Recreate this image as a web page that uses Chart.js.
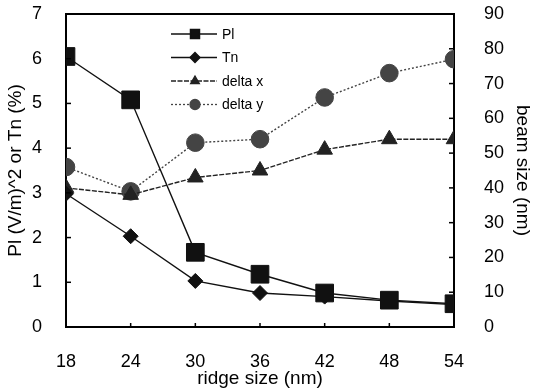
<!DOCTYPE html>
<html>
<head>
<meta charset="utf-8">
<script src="https://cdn.jsdelivr.net/npm/chart.js@4.4.1/dist/chart.umd.min.js"></script>
<style>
    html, body { margin: 0; padding: 0; background: #fff; }
    canvas { display: block; }
</style>
</head>
<body>
<canvas id="ridgeChart" width="534" height="392"></canvas>
<script>
// ridge size (nm)
const ridgeSizes = [18, 24, 30, 36, 42, 48, 54];
// left axis: Pl (V/m)^2 and Tn (%)
const plValues = [6.05, 5.08, 1.67, 1.18, 0.76, 0.6, 0.52];
const tnValues = [2.98, 2.03, 1.03, 0.76, 0.68, 0.58, 0.5];
// right axis: beam size (nm)
const deltaX = [40, 38, 43, 45, 51, 54, 54];
const deltaY = [46, 39, 53, 54, 66, 73, 77];

const fontFamily = '"Liberation Sans", Arial, sans-serif';

function toPoints(values) {
    return ridgeSizes.map((x, i) => ({ x: x, y: values[i] }));
}

const seriesStyles = [
    { label: 'Pl', data: plValues, axis: 'y', style: 'rect', radius: 12.5, color: '#111', dash: [] },
    { label: 'Tn', data: tnValues, axis: 'y', style: 'rectRot', radius: 7.5, color: '#111', dash: [] },
    { label: 'delta x', data: deltaX, axis: 'y2', style: 'triangle', radius: 9, color: '#222', dash: [5, 1.5] },
    { label: 'delta y', data: deltaY, axis: 'y2', style: 'circle', radius: 8.8, color: '#444', dash: [2, 2] }
];

// top edge of the frame, inward tick marks and the legend inside the plot
const framePlugin = {
    id: 'frame',
    afterDraw(chart) {
        const ctx = chart.ctx;
        const left = chart.scales.x.left, right = chart.scales.x.right;
        const top = chart.scales.y.top, bottom = chart.scales.y.bottom;
        ctx.save();
        ctx.setLineDash([]);
        ctx.strokeStyle = '#000';
        ctx.lineWidth = 2;
        ctx.beginPath(); ctx.moveTo(left - 1, top); ctx.lineTo(right + 1, top); ctx.stroke();

        ctx.lineWidth = 1.5;
        chart.scales.y.ticks.forEach(t => {
            const py = chart.scales.y.getPixelForValue(t.value);
            ctx.beginPath(); ctx.moveTo(left, py); ctx.lineTo(left + 5, py); ctx.stroke();
        });
        chart.scales.y2.ticks.forEach(t => {
            const py = chart.scales.y2.getPixelForValue(t.value);
            ctx.beginPath(); ctx.moveTo(right, py); ctx.lineTo(right - 5, py); ctx.stroke();
        });
        chart.scales.x.ticks.forEach(t => {
            const px = chart.scales.x.getPixelForValue(t.value);
            ctx.beginPath(); ctx.moveTo(px, bottom); ctx.lineTo(px, bottom - 4); ctx.stroke();
        });

        // legend
        const lx = 171, rowGap = 23.5;
        seriesStyles.forEach((s, i) => {
            const ly = 34 + i * rowGap;
            ctx.strokeStyle = s.color;
            ctx.fillStyle = s.color;
            ctx.lineWidth = 1.3;
            ctx.setLineDash(s.dash);
            ctx.beginPath(); ctx.moveTo(lx, ly); ctx.lineTo(lx + 46, ly); ctx.stroke();
            ctx.setLineDash([]);
            Chart.helpers.drawPoint(ctx, { pointStyle: s.style, radius: s.style === 'rect' ? 6.5 : 5, rotation: 0, borderWidth: 1 }, lx + 24, ly);
            ctx.fillStyle = '#000';
            ctx.font = '14px ' + fontFamily;
            ctx.textBaseline = 'middle';
            ctx.textAlign = 'left';
            ctx.fillText(s.label, lx + 51, ly + 1);
        });
        ctx.restore();
    }
};

const datasets = seriesStyles.map(s => ({
    label: s.label,
    data: toPoints(s.data),
    yAxisID: s.axis,
    borderColor: s.color,
    backgroundColor: s.color,
    borderWidth: 1.4,
    borderDash: s.dash,
    pointStyle: s.style,
    pointRadius: s.radius,
    pointBackgroundColor: s.color,
    pointBorderColor: s.color,
    pointBorderWidth: 1,
    tension: 0,
    fill: false
}));

const axisBorder = { display: true, color: '#000', width: 2 };

new Chart(document.getElementById('ridgeChart'), {
    type: 'line',
    data: { datasets: datasets },
    options: {
        responsive: false,
        animation: false,
        layout: { padding: { top: 14 } },
        plugins: {
            legend: { display: false },
            tooltip: { enabled: false }
        },
        scales: {
            x: {
                type: 'linear',
                min: 18,
                max: 54,
                grid: { display: false },
                border: axisBorder,
                ticks: { stepSize: 6, color: '#000', padding: 16, font: { size: 18, family: fontFamily } },
                title: { display: true, text: 'ridge size (nm)', color: '#000', padding: { top: 0, bottom: 2 }, font: { size: 19, family: fontFamily } },
                afterFit(scale) { scale.height = 65; }
            },
            y: {
                position: 'left',
                min: 0,
                max: 7,
                grid: { display: false },
                border: axisBorder,
                ticks: { stepSize: 1, color: '#000', padding: 16, font: { size: 18, family: fontFamily } },
                title: { display: true, text: 'Pl (V/m)^2 or Tn (%)', color: '#000', padding: { top: 4, bottom: 0 }, font: { size: 19, family: fontFamily } },
                afterFit(scale) { scale.width = 66; scale.paddingTop = 0; scale.paddingBottom = 0; }
            },
            y2: {
                position: 'right',
                min: 0,
                max: 90,
                grid: { display: false },
                border: axisBorder,
                ticks: { stepSize: 10, color: '#000', padding: 22, font: { size: 18, family: fontFamily } },
                title: { display: true, text: 'beam size (nm)', color: '#000', padding: { top: 0, bottom: 6 }, font: { size: 19, family: fontFamily } },
                afterFit(scale) { scale.width = 80; scale.paddingTop = 0; scale.paddingBottom = 0; }
            }
        }
    },
    plugins: [framePlugin]
});
</script>
</body>
</html>
